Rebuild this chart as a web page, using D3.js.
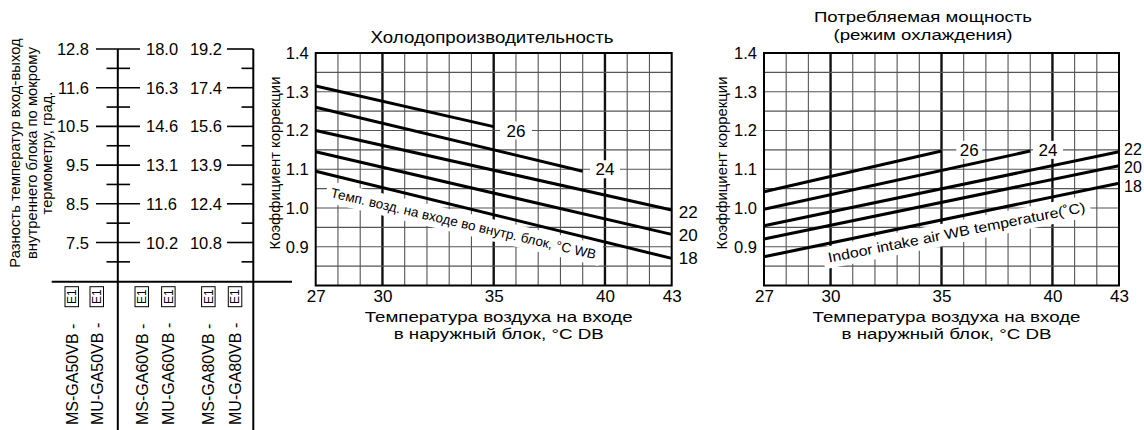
<!DOCTYPE html>
<html><head><meta charset="utf-8">
<script src="https://cdn.jsdelivr.net/npm/d3@7"></script>
<style>
body{margin:0;background:#fff;}
svg text{font-family:"Liberation Sans",Arial,sans-serif;fill:#000;}
</style></head>
<body>
<svg id="c" width="1144" height="430"></svg>
<script>
// ---------- data ----------
const wbCurves = ["26","24","22","20","18"];
// capacity (cooling): [outdoor DB °C, factor]
const capacity26 = [[27,1.315],[35,1.21]];
const capacity24 = [[27,1.26],[39,1.095]];
const capacity22 = [[27,1.20],[43,0.995]];
const capacity20 = [[27,1.145],[43,0.932]];
const capacity18 = [[27,1.095],[43,0.870]];
// power input (cooling)
const power26 = [[27,1.042],[35,1.147]];
const power24 = [[27,0.997],[39,1.147]];
const power22 = [[27,0.954],[43,1.145]];
const power20 = [[27,0.920],[43,1.109]];
const power18 = [[27,0.874],[43,1.064]];
const xTicks = [27,30,35,40,43];
const yTicks = [0.9,1.0,1.1,1.2,1.3,1.4];
// nomogram columns
const nomoCol1 = ["12.8","11.6","10.5","9.5","8.5","7.5"];
const nomoCol2 = ["18.0","16.3","14.6","13.1","11.6","10.2"];
const nomoCol3 = ["19.2","17.4","15.6","13.9","12.4","10.8"];
const models = ["MS-GA50VB","MU-GA50VB","MS-GA60VB","MU-GA60VB","MS-GA80VB","MU-GA80VB"];
const capTitle = "Холодопроизводительность";
const powTitle = ["Потребляемая мощность","(режим охлаждения)"];
const xTitle = ["Температура воздуха на входе","в наружный блок, °C DB"];
const yTitle = "Коэффициент коррекции";
const nomoTitle = ["Разность температур вход-выход","внутреннего блока по мокрому","термометру, град."];
const capNote = "Темп. возд. на входе во внутр. блок, °C WB";
const powNote = "Indoor intake air WB temperature(˚C)";

const svg = d3.select("#c");
const capData = [capacity26,capacity24,capacity22,capacity20,capacity18];
const powData = [power26,power24,power22,power20,power18];

function chart(opts){
  const x = d3.scaleLinear([27,43],[opts.x0,opts.x1]);
  const y = d3.scaleLinear([0.8,1.4],[285.5,53]);
  const g = svg.append("g");
  // grid
  const gridX = d3.range(28,43);
  g.selectAll(".gx").data(gridX).join("line")
    .attr("x1",d=>x(d)).attr("x2",d=>x(d)).attr("y1",y(1.4)).attr("y2",y(0.8))
    .attr("stroke",d=>(d%5===0)?"#111":"#555")
    .attr("stroke-width",d=>(d%5===0)?2.4:1.1);
  const gridY = d3.range(17,28).map(i=>i*0.05);
  g.selectAll(".gy").data(gridY).join("line")
    .attr("x1",x(27)).attr("x2",x(43)).attr("y1",d=>y(d)).attr("y2",d=>y(d))
    .attr("stroke","#555").attr("stroke-width",1.1);
  // rotated note with white band
  const n = opts.note;
  const ng = g.append("g").attr("transform",`translate(${n.x},${n.y}) rotate(${n.a})`);
  ng.append("rect").attr("x",-5).attr("y",-n.fs-2).attr("width",n.len+10).attr("height",n.fs+8).attr("fill","#fff");
  ng.append("text").attr("font-size",n.fs).attr("textLength",n.len).attr("lengthAdjust","spacingAndGlyphs").text(n.text);
  // curves
  const line = d3.line().x(d=>x(d[0])).y(d=>y(d[1]));
  g.selectAll(".cv").data(opts.data).join("path")
    .attr("d",line).attr("fill","none").attr("stroke","#000").attr("stroke-width",3);
  // inline labels (26, 24)
  opts.inLabels.forEach(l=>{
    g.append("rect").attr("x",x(l.t)-l.w/2).attr("y",y(l.v)-9).attr("width",l.w).attr("height",18).attr("fill","#fff");
    g.append("text").attr("x",x(l.t)).attr("y",y(l.v)+6).attr("text-anchor","middle").attr("font-size",17).text(l.s);
  });
  // end labels
  opts.endLabels.forEach(l=>{
    g.append("text").attr("x",opts.x1+l.dx).attr("y",l.y).attr("font-size",opts.efs).text(l.s);
  });
  // frame
  g.append("rect").attr("x",x(27)).attr("y",y(1.4)).attr("width",x(43)-x(27)).attr("height",y(0.8)-y(1.4))
    .attr("fill","none").attr("stroke","#000").attr("stroke-width",2);
  // axes
  const ay = g.append("g").attr("transform",`translate(${x(27)},0)`)
    .call(d3.axisLeft(y).tickValues(yTicks).tickFormat(d3.format(".1f")).tickSize(0).tickPadding(7));
  ay.select(".domain").remove();
  ay.selectAll("text").attr("font-size",16.5).attr("font-family","Liberation Sans, Arial, sans-serif").attr("fill","#000");
  const ax = g.append("g").attr("transform",`translate(0,${y(0.8)})`)
    .call(d3.axisBottom(x).tickValues(xTicks).tickSize(0).tickPadding(4.5));
  ax.select(".domain").remove();
  ax.selectAll("text").attr("font-size",17).attr("font-family","Liberation Sans, Arial, sans-serif").attr("fill","#000");
  // titles
  const cx = (opts.x0+opts.x1)/2;
  g.append("text").attr("x",cx+5).attr("y",321.5).attr("text-anchor","middle").attr("font-size",15.5)
    .attr("textLength",268).attr("lengthAdjust","spacingAndGlyphs").text(xTitle[0]);
  g.append("text").attr("x",cx+5).attr("y",339).attr("text-anchor","middle").attr("font-size",15.5)
    .attr("textLength",210).attr("lengthAdjust","spacingAndGlyphs").text(xTitle[1]);
  g.append("text").attr("transform",`translate(${opts.yl},163) rotate(-90)`).attr("text-anchor","middle").attr("font-size",15.5)
    .attr("textLength",173).attr("lengthAdjust","spacingAndGlyphs").text(yTitle);
  opts.title.forEach((t,i)=>{
    g.append("text").attr("x",opts.tx).attr("y",opts.ty+i*17.5).attr("text-anchor","middle").attr("font-size",opts.tfs)
      .attr("textLength",opts.tw[i]).attr("lengthAdjust","spacingAndGlyphs").text(t);
  });
}

chart({x0:315.7,x1:671.7,data:capData,
  note:{x:330,y:197,a:13.2,len:272,fs:13.5,text:capNote},
  inLabels:[{t:36,v:1.2,w:32,s:wbCurves[0]},{t:40,v:1.1,w:30,s:wbCurves[1]}],
  endLabels:[{s:wbCurves[2],y:218,dx:7},{s:wbCurves[3],y:241,dx:7},{s:wbCurves[4],y:264,dx:7}],
  efs:17,yl:280,title:[capTitle],tw:[243],tfs:17,tx:492,ty:43});
chart({x0:764,x1:1119,data:powData,
  note:{x:829,y:262.5,a:-11.2,len:262,fs:14,text:powNote},
  inLabels:[{t:36.25,v:1.15,w:26,s:wbCurves[0]},{t:39.8,v:1.15,w:30,s:wbCurves[1]}],
  endLabels:[{s:wbCurves[2],y:154.5,dx:5},{s:wbCurves[3],y:173,dx:5},{s:wbCurves[4],y:192,dx:5}],
  efs:16,yl:727,title:powTitle,tw:[218,179],tfs:15.5,tx:923,ty:22});

// ---------- nomogram ----------
const ny = d3.scalePoint(d3.range(6),[49,242.5]);
const step = ny.step();
const ng = svg.append("g");
const L1 = 117.8, L2 = 253.3;
ng.append("line").attr("x1",L1).attr("x2",L1).attr("y1",ny(0)).attr("y2",430).attr("stroke","#000").attr("stroke-width",2);
ng.append("line").attr("x1",L2).attr("x2",L2).attr("y1",ny(0)).attr("y2",430).attr("stroke","#000").attr("stroke-width",2);
ng.append("line").attr("x1",51.7).attr("x2",292).attr("y1",281.7).attr("y2",281.7).attr("stroke","#000").attr("stroke-width",2);
d3.range(6).forEach(i=>{
  const yy = ny(i);
  ng.append("line").attr("x1",96).attr("x2",140).attr("y1",yy).attr("y2",yy).attr("stroke","#000").attr("stroke-width",1.6);
  ng.append("line").attr("x1",227).attr("x2",L2).attr("y1",yy).attr("y2",yy).attr("stroke","#000").attr("stroke-width",1.6);
  const ym = yy + step/2;
  ng.append("line").attr("x1",106.5).attr("x2",130).attr("y1",ym).attr("y2",ym).attr("stroke","#000").attr("stroke-width",1.6);
  ng.append("line").attr("x1",241.5).attr("x2",L2).attr("y1",ym).attr("y2",ym).attr("stroke","#000").attr("stroke-width",1.6);
  ng.append("text").attr("x",89).attr("y",yy+6).attr("text-anchor","end").attr("font-size",16.5).text(nomoCol1[i]);
  ng.append("text").attr("x",146).attr("y",yy+6).attr("font-size",16.5).text(nomoCol2[i]);
  ng.append("text").attr("x",222).attr("y",yy+6).attr("text-anchor","end").attr("font-size",16.5).text(nomoCol3[i]);
});
const nomoX = [20,36.5,51.5];
nomoTitle.forEach((t,i)=>{
  ng.append("text").attr("transform",`translate(${nomoX[i]},153) rotate(-90)`).attr("text-anchor","middle").attr("font-size",14.8).text(t);
});
const modelX = [71.7,96.7,141.7,168.3,208.3,235];
models.forEach((m,i)=>{
  const mg = ng.append("g").attr("transform",`translate(${modelX[i]+5.8},425) rotate(-90)`);
  mg.append("text").attr("x",0).attr("y",0).attr("font-size",16).text(m+" - ");
  mg.append("rect").attr("x",118.3).attr("y",-12.5).attr("width",20).attr("height",13.5).attr("fill","none").attr("stroke","#000").attr("stroke-width",1);
  mg.append("text").attr("x",128.3).attr("y",-1.5).attr("text-anchor","middle").attr("font-size",12).text("E1");
});
</script>
</body></html>
